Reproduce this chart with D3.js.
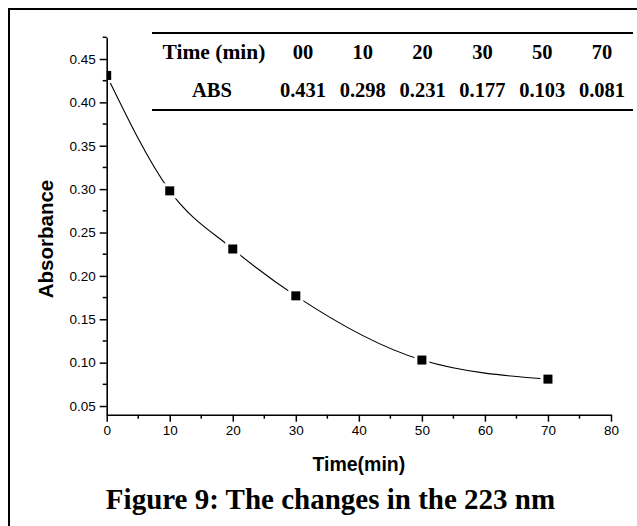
<!DOCTYPE html>
<html>
<head>
<meta charset="utf-8">
<script src="https://cdn.jsdelivr.net/npm/d3@7"></script>
<style>
  html, body { margin: 0; padding: 0; background: #fff; }
  svg { display: block; }
</style>
</head>
<body>
<svg id="chart" width="637" height="526"></svg>
<script>
// Absorbance at 223 nm versus reaction time
const times = [0, 10, 20, 30, 50, 70];
const absorbance = [0.431, 0.298, 0.231, 0.177, 0.103, 0.081];

const xTicks = [0, 10, 20, 30, 40, 50, 60, 70, 80];
const xMinorTicks = [5, 15, 25, 35, 45, 55, 65, 75];
const yTicks = [0.05, 0.10, 0.15, 0.20, 0.25, 0.30, 0.35, 0.40, 0.45];
const yMinorTicks = [0.075, 0.125, 0.175, 0.225, 0.275, 0.325, 0.375, 0.425, 0.475];

const tableHeaders = ["Time (min)", "ABS"];
const xTitle = "Time(min)";
const yTitle = "Absorbance";
const caption = "Figure 9: The changes in the 223 nm";

const svg = d3.select("#chart");

// outer frame (left and top edges)
svg.append("path")
  .attr("d", "M9,526 L9,9 L637,9")
  .attr("fill", "none").attr("stroke", "#000").attr("stroke-width", 2);

const x = d3.scaleLinear().domain([0, 80]).range([106.7, 611]);
const y = d3.scaleLinear().domain([0.04, 0.475]).range([414.7, 37.3]);

const axisFont = "'Liberation Sans', Arial, sans-serif";
const serifFont = "'Liberation Serif', 'Times New Roman', serif";

// clip for plotted marks
svg.append("clipPath").attr("id", "plot-clip")
  .append("rect")
  .attr("x", x(0)).attr("y", y(0.475) - 10)
  .attr("width", x(80) - x(0) + 10).attr("height", y(0.04) - y(0.475) + 10);

const plot = svg.append("g").attr("clip-path", "url(#plot-clip)");
const pts = times.map((t, i) => [t, absorbance[i]]);

const line = d3.line()
  .x(d => x(d[0])).y(d => y(d[1]))
  .curve(d3.curveMonotoneX);

plot.append("path")
  .datum(pts)
  .attr("d", line)
  .attr("fill", "none").attr("stroke", "#000").attr("stroke-width", 1.1);

const ms = 9;
// white halo around markers leaves a gap in the curve
plot.selectAll("rect.halo").data(pts).join("rect")
  .attr("class", "halo")
  .attr("x", d => x(d[0]) - ms / 2 - 3).attr("y", d => y(d[1]) - ms / 2 - 3)
  .attr("width", ms + 6).attr("height", ms + 6)
  .attr("fill", "#fff");
plot.selectAll("rect.mark").data(pts).join("rect")
  .attr("class", "mark")
  .attr("x", d => x(d[0]) - ms / 2).attr("y", d => y(d[1]) - ms / 2)
  .attr("width", ms).attr("height", ms)
  .attr("fill", "#000");

// x axis
const xAxis = svg.append("g").attr("transform", `translate(0,${y(0.04)})`)
  .call(d3.axisBottom(x).tickValues(xTicks).tickFormat(d3.format("d"))
    .tickSize(7).tickSizeOuter(0).tickPadding(4));
xAxis.append("g").selectAll("line").data(xMinorTicks).join("line")
  .attr("x1", d => x(d)).attr("x2", d => x(d)).attr("y1", 0).attr("y2", 4)
  .attr("stroke", "#000").attr("stroke-width", 1.5);

// y axis
const yAxis = svg.append("g").attr("transform", `translate(${x(0)},0)`)
  .call(d3.axisLeft(y).tickValues(yTicks).tickFormat(d3.format(".2f"))
    .tickSize(7).tickSizeOuter(0).tickPadding(4));
yAxis.append("g").selectAll("line").data(yMinorTicks).join("line")
  .attr("y1", d => y(d)).attr("y2", d => y(d)).attr("x1", 0).attr("x2", -4)
  .attr("stroke", "#000").attr("stroke-width", 1.5);

[xAxis, yAxis].forEach(g => {
  g.attr("font-size", null).attr("font-family", null);
  g.select(".domain").attr("stroke", "#000").attr("stroke-width", 1.6);
  g.selectAll(".tick line").attr("stroke", "#000").attr("stroke-width", 1.5);
  g.selectAll(".tick text")
    .attr("fill", "#000")
    .style("font-family", axisFont).style("font-size", "13.5px");
});

// axis titles
svg.append("text")
  .attr("x", (x(0) + x(80)) / 2).attr("y", 471)
  .attr("text-anchor", "middle")
  .style("font-family", axisFont).style("font-size", "19.5px").style("font-weight", "bold")
  .text(xTitle);

svg.append("text")
  .attr("transform", "translate(53,239) rotate(-90)")
  .attr("text-anchor", "middle")
  .style("font-family", axisFont).style("font-size", "20.5px").style("font-weight", "bold")
  .text(yTitle);

// data table
const col = d3.scalePoint().domain(d3.range(times.length)).range([303, 602]);
const table = svg.append("g")
  .style("font-family", serifFont).style("font-weight", "bold").style("font-size", "20.5px");

table.append("line").attr("x1", 152).attr("x2", 633).attr("y1", 33).attr("y2", 33)
  .attr("stroke", "#000").attr("stroke-width", 2.2);
table.append("line").attr("x1", 152).attr("x2", 633).attr("y1", 110).attr("y2", 110)
  .attr("stroke", "#000").attr("stroke-width", 2.2);

table.append("text").attr("x", 214).attr("y", 59).attr("text-anchor", "middle")
  .style("font-size", "21.5px").text(tableHeaders[0]);
table.append("text").attr("x", 212).attr("y", 97).attr("text-anchor", "middle").text(tableHeaders[1]);

table.selectAll("text.t").data(times).join("text")
  .attr("class", "t")
  .attr("x", (d, i) => col(i)).attr("y", 59).attr("text-anchor", "middle")
  .text(d => d3.format("02d")(d));
table.selectAll("text.a").data(absorbance).join("text")
  .attr("class", "a")
  .attr("x", (d, i) => col(i)).attr("y", 97).attr("text-anchor", "middle")
  .text(d => d3.format(".3f")(d));

// caption
svg.append("text")
  .attr("x", 330.5).attr("y", 509)
  .attr("text-anchor", "middle")
  .style("font-family", serifFont).style("font-weight", "bold").style("font-size", "29px")
  .text(caption);
</script>
</body>
</html>
